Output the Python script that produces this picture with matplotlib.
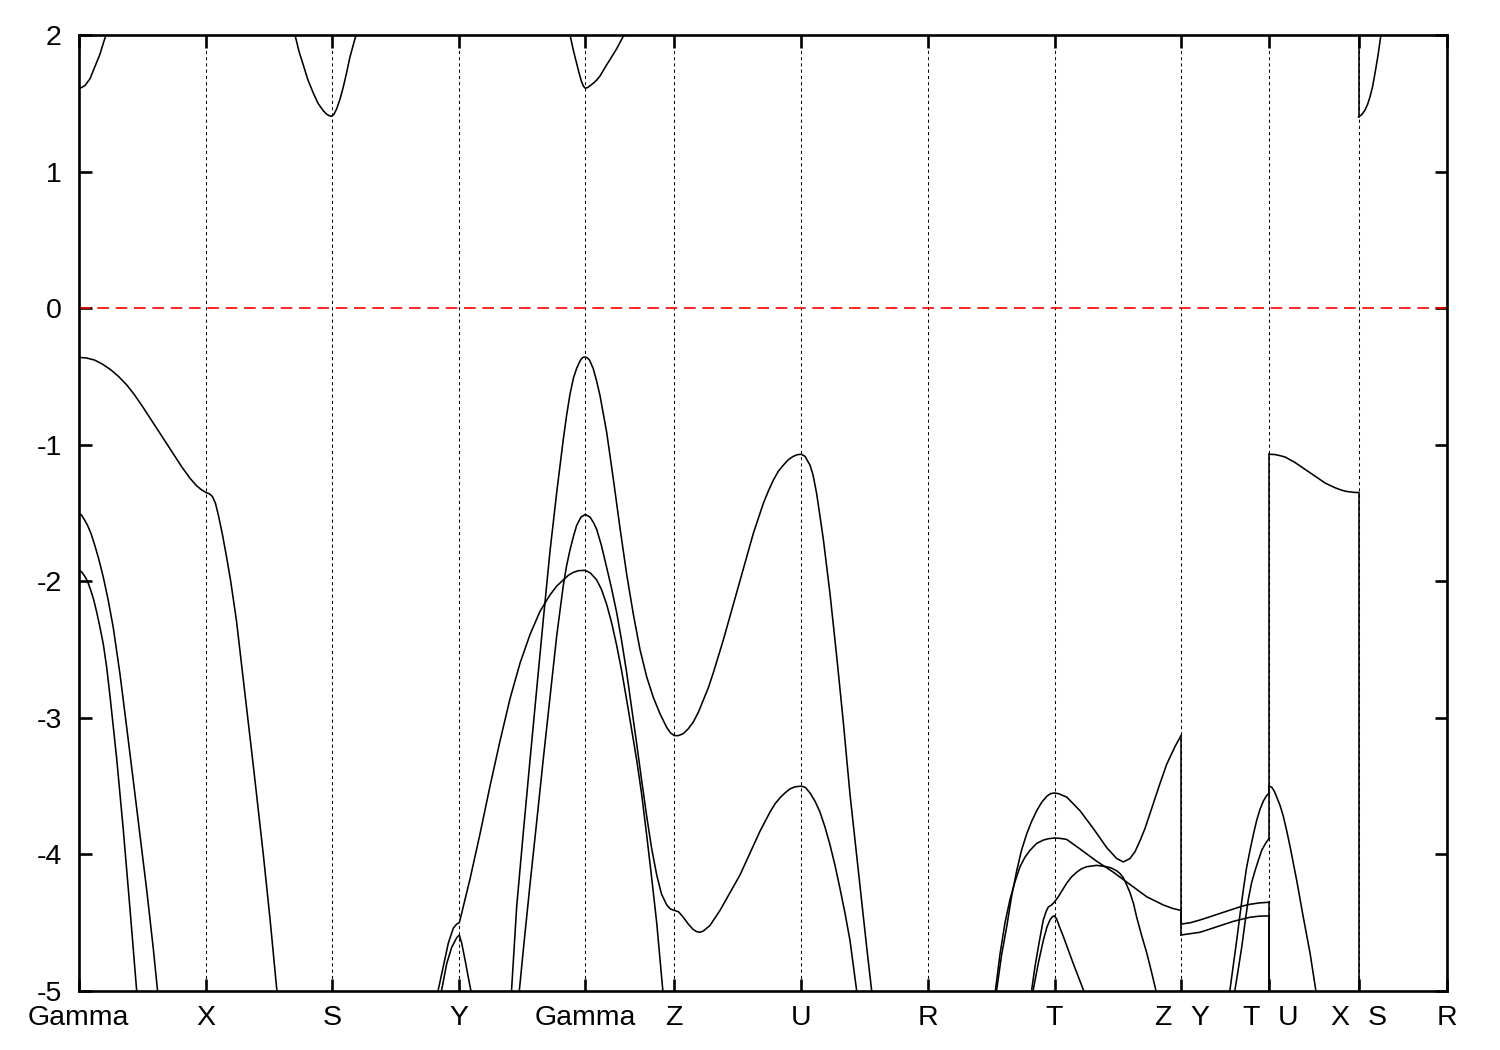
import matplotlib
matplotlib.use("Agg")
import matplotlib.pyplot as plt
from matplotlib.transforms import ScaledTranslation

plt.rcParams['font.family'] = ['Liberation Sans', 'DejaVu Sans']
plt.rcParams['axes.unicode_minus'] = False

# ---------------- data ----------------
# high-symmetry points along the k-path (path distance, arbitrary units)
kpath_pos = [0.0, 127.5, 253.5, 380.8, 506.8, 595.7, 722.8, 849.0, 976.0,
             1102.5, 1190.8, 1280.0, 1368.5]
kpath_lbl = ['Gamma', 'X', 'S', 'Y', 'Gamma', 'Z', 'U', 'R', 'T',
             'Z|Y', 'T|U', 'X|S', 'R']
fermi_level = 0.0
e_ticks = [-5, -4, -3, -2, -1, 0, 1, 2]

# valence bands, Gamma-X-S
vb1_k = [0, 8, 16, 24, 32, 40, 48, 56, 64, 72, 80, 88, 96, 104, 112, 118, 123, 127.5,
         131, 134, 137, 140, 144, 148, 152, 158, 164.8, 174.8, 184.8, 191.5, 197.5, 200.5]
vb1_E = [-0.36, -0.365, -0.38, -0.41, -0.45, -0.50, -0.56, -0.635, -0.72, -0.81, -0.90, -0.99, -1.08,
         -1.17, -1.25, -1.30, -1.33, -1.35,
         -1.36, -1.38, -1.43, -1.52, -1.66, -1.82, -1.99, -2.29, -2.72, -3.35, -4.0, -4.47, -4.93, -5.15]
vb2_k = [0, 3, 6, 9, 12.5, 16, 20, 24.8, 29.5, 34.8, 41.5, 48.2, 54.8, 61.5, 68.2, 74.8, 78.8, 81.5]
vb2_E = [-1.50, -1.515, -1.55, -1.59, -1.65, -1.73, -1.83, -1.97, -2.13, -2.34, -2.68, -3.07, -3.46,
         -3.86, -4.26, -4.69, -4.98, -5.15]
vb3_k = [0, 3, 6, 9, 12, 15, 18, 21, 24.8, 28.2, 31.5, 38.2, 44.8, 51.5, 58.2, 60.5]
vb3_E = [-1.92, -1.93, -1.96, -2.0, -2.06, -2.13, -2.22, -2.32, -2.46, -2.63, -2.84, -3.30, -3.82,
         -4.40, -5.0, -5.18]

# conduction band pockets
cb1_k = [0, 3, 6.5, 11.5, 16.5, 21.5, 24.8, 27.5, 29.5]
cb1_E = [1.61, 1.615, 1.63, 1.68, 1.77, 1.86, 1.94, 2.0, 2.05]
cb2_k = [213.5, 216.5, 220.5, 224.8, 229.5, 234.8, 239.5, 244.8, 248.2, 251, 253.2, 255.5, 258.2,
         261.5, 264.8, 268, 271.5, 274.5, 277.5, 279.5]
cb2_E = [2.08, 2.0, 1.88, 1.78, 1.67, 1.575, 1.50, 1.445, 1.42, 1.408, 1.405, 1.42, 1.46,
         1.53, 1.62, 1.72, 1.84, 1.92, 2.0, 2.06]
cb3_k = [490.5, 491.5, 494.8, 498.2, 501, 503.2, 505, 506.8, 509, 511.5, 515, 518.2, 521.5, 524.8,
         528, 531.5, 538.2, 545.5, 547.5]
cb3_E = [2.05, 2.0, 1.89, 1.79, 1.71, 1.655, 1.625, 1.61, 1.615, 1.628, 1.648, 1.67, 1.70, 1.74,
         1.78, 1.82, 1.90, 2.0, 2.03]
cb4_k = [1280.0, 1283, 1286.5, 1289, 1291.5, 1294, 1296.5, 1299.5, 1302.2, 1303.5]
cb4_E = [1.40, 1.415, 1.45, 1.49, 1.547, 1.62, 1.72, 1.85, 1.99, 2.06]

# S-Y-Gamma-Z-U-R bands
arc_k = [359.0, 359.8, 364.8, 369.8, 374.8, 378.2, 380.8, 383.2, 386.5, 391.5, 401.5, 411.5, 421.5,
         431.5, 441.5, 451.5, 461.5, 471.5, 478.2, 484.8, 490, 494.8, 500, 506.8, 512, 518.2, 523,
         528.2, 533, 538.2, 543, 548.2, 553, 558.2, 563, 568.2, 573, 578.2, 583.5, 585.0]
arc_E = [-5.05, -4.99, -4.82, -4.65, -4.54, -4.51, -4.50, -4.43, -4.33, -4.18, -3.85, -3.50, -3.17,
         -2.86, -2.60, -2.39, -2.22, -2.10, -2.035, -1.99, -1.955, -1.935, -1.922, -1.92, -1.94,
         -1.99, -2.06, -2.17, -2.30, -2.47, -2.65, -2.87, -3.08, -3.31, -3.55, -3.86, -4.16, -4.50,
         -4.93, -5.05]
ypk_k = [362.7, 363.2, 368.2, 373.2, 378.2, 380.8, 383.2, 386.5, 389.8, 392.2, 392.7]
ypk_E = [-5.03, -4.99, -4.80, -4.68, -4.61, -4.59, -4.65, -4.77, -4.90, -4.99, -5.03]
gtop_k = [431.0, 433.0, 438.2, 444.8, 451.5, 458.2, 464.8, 471.5, 478.2, 484.8, 488, 491.5, 495,
          498.2, 501, 502.5, 504.5, 506.8, 509, 511.0, 514.8, 518, 521.5, 528.2, 534.8, 541.5, 548.2,
          554.8, 561.5, 568.2, 574.8, 581.5, 588.2, 592, 595.8, 600, 604.8, 609.8, 614.8, 619.8,
          624.8, 629.8, 634.8, 644.8, 654.8, 664.8, 674.8, 684.8, 689.8, 694.8, 699.8, 704.8, 709.8,
          714.8, 718.8, 722.8, 726.5, 731.5, 734.5, 738.2, 744.8, 751.5, 758.2, 764.8, 771.5, 781.5,
          788.2, 793.2, 794.5]
gtop_E = [-5.1, -5.0, -4.38, -3.84, -3.31, -2.79, -2.28, -1.78, -1.35, -0.96, -0.79, -0.63, -0.51,
          -0.44, -0.395, -0.375, -0.36, -0.358, -0.365, -0.38, -0.444, -0.53, -0.64, -0.91, -1.25,
          -1.61, -1.95, -2.24, -2.50, -2.70, -2.85, -2.97, -3.07, -3.11, -3.13, -3.13, -3.115,
          -3.08, -3.03, -2.96, -2.87, -2.78, -2.67, -2.43, -2.17, -1.91, -1.65, -1.43, -1.34, -1.26,
          -1.195, -1.15, -1.11, -1.085, -1.073, -1.07, -1.085, -1.15, -1.22, -1.36, -1.69, -2.09,
          -2.55, -3.03, -3.56, -4.23, -4.68, -5.0, -5.1]
gmid_k = [440.0, 440.8, 444.8, 451.5, 458.2, 464.8, 471.5, 478.2, 484.8, 488, 491.5, 495, 498.2,
          502.5, 506.8, 511.5, 515, 518.2, 523, 528.2, 533, 538.2, 543, 548.2, 553, 558.2, 563,
          568.2, 573, 578.2, 583, 588.2, 592, 595.8, 600, 604.8, 609.8, 614.8, 618, 621.5, 625,
          631.5, 641.5, 651.5, 661.5, 671.5, 681.5, 691.5, 696.5, 701.5, 706.5, 711.5, 716.5, 722.8,
          727, 731.5, 736.5, 741.5, 746.5, 751.5, 756.5, 761.5, 766.5, 771.5, 778.2, 779.5]
gmid_E = [-5.05, -5.0, -4.70, -4.22, -3.76, -3.30, -2.85, -2.40, -2.03, -1.89, -1.77, -1.67, -1.59,
          -1.53, -1.51, -1.53, -1.57, -1.62, -1.74, -1.90, -2.05, -2.23, -2.43, -2.67, -2.92, -3.19,
          -3.45, -3.72, -3.95, -4.15, -4.29, -4.37, -4.40, -4.41, -4.42, -4.46, -4.51, -4.55, -4.565,
          -4.57, -4.56, -4.52, -4.41, -4.28, -4.15, -3.99, -3.83, -3.69, -3.63, -3.585, -3.55, -3.52,
          -3.505, -3.50, -3.51, -3.55, -3.61, -3.69, -3.80, -3.93, -4.08, -4.25, -4.43, -4.63, -5.0,
          -5.08]

# R-T-Z bands
t1_k = [917.7, 918.2, 923, 928.2, 933, 938.2, 943, 948.2, 953, 958.2, 963, 968.2, 972, 975.8, 980,
        988.2, 1001.5, 1014.8, 1028.2, 1038.2, 1044.8, 1051.5, 1056.5, 1061.5, 1066.5, 1071.5,
        1076.5, 1081.5, 1088.2, 1096.5, 1102.5]
t1_E = [-5.02, -4.99, -4.74, -4.53, -4.31, -4.12, -3.97, -3.85, -3.76, -3.68, -3.62, -3.575,
        -3.555, -3.55, -3.555, -3.58, -3.68, -3.81, -3.95, -4.03, -4.055, -4.03, -3.98, -3.90,
        -3.81, -3.70, -3.59, -3.48, -3.34, -3.21, -3.13]
t2_k = [916.5, 921.5, 926.5, 931.5, 936.5, 941.5, 946.5, 951.5, 958, 964.8, 970, 975.8, 981,
        988.2, 1001.5, 1018.2, 1034.8, 1051.5, 1068.2, 1084.8, 1094, 1102.5]
t2_E = [-5.02, -4.73, -4.50, -4.33, -4.20, -4.09, -4.02, -3.97, -3.92, -3.895, -3.885, -3.88,
        -3.882, -3.89, -3.96, -4.05, -4.13, -4.22, -4.31, -4.37, -4.395, -4.41]
t3_k = [953.0, 953.2, 956.5, 959.8, 962.5, 964.8, 967.5, 969.8, 973, 975.8, 979.8, 984, 988.2,
        993, 998.2, 1003, 1008.2, 1018.2, 1028.2, 1033, 1038.2, 1041.5, 1044.8, 1048, 1051.5,
        1055, 1058.2, 1063, 1068.2, 1073, 1077.2, 1078.0]
t3_E = [-5.02, -4.99, -4.82, -4.68, -4.57, -4.48, -4.42, -4.385, -4.37, -4.35, -4.31, -4.26, -4.21,
        -4.165, -4.13, -4.105, -4.09, -4.08, -4.09, -4.10, -4.12, -4.14, -4.17, -4.22, -4.28,
        -4.36, -4.46, -4.59, -4.72, -4.86, -4.99, -5.03]
t4_k = [954.0, 954.5, 960, 964.8, 968.5, 971.5, 974, 975.8, 978, 981, 984.8, 994.8, 1004.8, 1005.5]
t4_E = [-5.03, -5.0, -4.79, -4.63, -4.53, -4.48, -4.455, -4.45, -4.47, -4.53, -4.60, -4.80, -4.99,
        -5.02]

# Y-T bands
f1_k = [1102.5, 1112, 1121.5, 1130, 1138.2, 1146.5, 1154.8, 1163, 1171.5, 1181, 1190.8]
f1_E = [-4.51, -4.50, -4.48, -4.46, -4.44, -4.42, -4.40, -4.38, -4.365, -4.355, -4.35]
f2_k = [1102.5, 1112, 1121.5, 1130, 1138.2, 1146.5, 1154.8, 1163, 1171.5, 1181, 1190.8]
f2_E = [-4.59, -4.58, -4.57, -4.55, -4.53, -4.51, -4.49, -4.475, -4.46, -4.452, -4.45]
r1_k = [1151.2, 1151.5, 1155, 1158.2, 1161.5, 1164.8, 1168, 1171.5, 1175, 1178.2, 1181.5, 1184.8,
        1188, 1190.8]
r1_E = [-5.02, -4.99, -4.80, -4.63, -4.44, -4.26, -4.10, -3.97, -3.85, -3.75, -3.67, -3.61,
        -3.57, -3.55]
r2_k = [1156.2, 1156.5, 1160, 1163.2, 1166.5, 1169.8, 1173, 1176.5, 1180, 1183.2, 1187, 1190.8]
r2_E = [-5.02, -4.99, -4.83, -4.68, -4.50, -4.33, -4.21, -4.12, -4.04, -3.97, -3.92, -3.88]

# U-X bands
u1_k = [1190.8, 1196.5, 1201.5, 1206.5, 1216.5, 1226.5, 1236.5, 1246.5, 1256.5, 1262, 1266.5,
        1271, 1275.5, 1280.0]
u1_E = [-1.07, -1.072, -1.08, -1.09, -1.13, -1.18, -1.23, -1.28, -1.315, -1.33, -1.34, -1.345,
        -1.349, -1.35]
u2_k = [1190.8, 1193.5, 1196, 1198.2, 1201.5, 1204.8, 1208, 1211.5, 1218.2, 1224.8, 1231.5, 1237.2,
        1237.7]
u2_E = [-3.50, -3.51, -3.54, -3.58, -3.64, -3.72, -3.82, -3.94, -4.19, -4.46, -4.72, -4.99, -5.02]

# discontinuities of the path (band value before -> after the jump)
jump_k = [1102.5, 1102.5, 1190.8, 1190.8, 1190.8, 1190.8, 1280.0, 1280.0]
jump_from = [-3.13, -4.41, -3.55, -3.88, -4.35, -4.45, -1.35, 2.3]
jump_to = [-4.51, -4.59, -1.07, -3.50, -5.3, -5.3, -5.3, 1.40]

bands = [(vb1_k, vb1_E), (vb2_k, vb2_E), (vb3_k, vb3_E),
         (cb1_k, cb1_E), (cb2_k, cb2_E), (cb3_k, cb3_E), (cb4_k, cb4_E),
         (arc_k, arc_E), (ypk_k, ypk_E), (gtop_k, gtop_E), (gmid_k, gmid_E),
         (t1_k, t1_E), (t2_k, t2_E), (t3_k, t3_E), (t4_k, t4_E),
         (f1_k, f1_E), (f2_k, f2_E), (r1_k, r1_E), (r2_k, r2_E),
         (u1_k, u1_E), (u2_k, u2_E)]

# ---------------- plot ----------------
W, H = 1500, 1050
FS = 20.5
XPAD = 10
fig = plt.figure(figsize=(W / 100, H / 100), dpi=100)
ax = fig.add_axes([78.5 / W, 1 - 991 / H, (1447 - 78.5) / W, (991 - 35) / H])

for xv in kpath_pos[1:-1]:
    ax.axvline(xv, color='black', lw=0.75, ls=(0, (3, 3)), zorder=1)

ax.axhline(fermi_level, color='#ff0000', lw=1.2, ls=(0, (7, 4)), zorder=2)

for kk, ee in bands:
    ax.plot(kk, ee, color='black', lw=1.15, zorder=3, solid_joinstyle='round')
for kj, a, b in zip(jump_k, jump_from, jump_to):
    ax.plot([kj, kj], [a, b], color='black', lw=1.15, zorder=3)

ax.set_xlim(kpath_pos[0], kpath_pos[-1])
ax.set_ylim(-5, 2)
ax.set_yticks(e_ticks, [str(v) for v in e_ticks])
ax.set_xticks(kpath_pos, ['' if '|' in s else s for s in kpath_lbl])

ax.tick_params(axis='both', which='major', direction='in', top=True, right=True,
               length=9, width=1.9, labelsize=FS)
ax.tick_params(axis='y', pad=12)
ax.tick_params(axis='x', pad=XPAD)
for sp in ax.spines.values():
    sp.set_linewidth(1.9)

# labels of the path discontinuities: left part left of the tick, right part right of it
base = ax.get_xaxis_transform()
for xv, s in zip(kpath_pos, kpath_lbl):
    if '|' in s:
        left, right = s.split('|')
        for txt, dx in ((left, -18.5), (right, 18.5)):
            tr = base + ScaledTranslation(dx / 100, -XPAD / 72, fig.dpi_scale_trans)
            ax.text(xv, 0, txt, transform=tr, ha='center', va='top', fontsize=FS, clip_on=False)

fig.savefig('out.png', dpi=100)
